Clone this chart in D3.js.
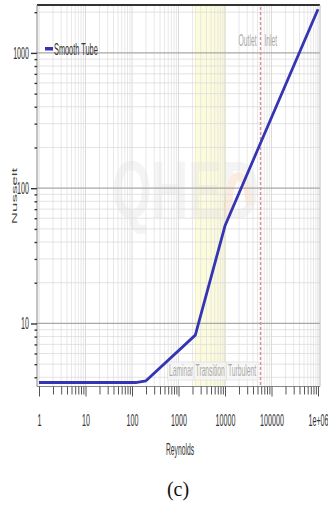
<!DOCTYPE html>
<html><head><meta charset="utf-8">
<script src="https://cdn.jsdelivr.net/npm/d3@7"></script>
<style>html,body{margin:0;padding:0;background:#fff;}svg{display:block;}</style>
</head><body>
<svg id="c" width="328" height="505"></svg>
<script>
// ---- data ----
const reynolds = [1, 120, 200, 2300, 10000, 100000, 1000000];
const nusselt  = [3.66, 3.66, 3.77, 8.2, 52.7, 333, 2100];
const xTickValues = [1, 10, 100, 1000, 10000, 100000, 1000000];
const xTickLabels = ["1", "10", "100", "1000", "10000", "100000", "1e+06"];
const yTickValues = [10, 100, 1000];
const yTickLabels = ["10", "100", "1000"];
const seriesName = ["Smooth Tube"];
const transitionBand = [2300, 10000];
const regimeLabels = ["Laminar", "Transition", "Turbulent"];
const portLine = [58000];
const portLabels = ["Outlet", "Inlet"];

const svg = d3.select("#c");
const L = 37, R = 320, T = 5, B = 386.5;
const x = d3.scaleLog().domain([1, 1e6]).range([39, 318]);
const y = d3.scaleLog().domain([3.42, 2260]).range([B, T]);
const SX = 0.42;
const font = "Liberation Sans, Arial, sans-serif";

// minor values
const xMinor = [], yMinor = [];
for (let e = 0; e < 6; e++) for (let k = 1; k < 10; k++) xMinor.push(k * Math.pow(10, e));
xMinor.push(1e6);
for (let e = 0; e < 4; e++) for (let k = 1; k < 10; k++) { const v = k * Math.pow(10, e); if (v >= 3.42 && v <= 2260) yMinor.push(v); }

// transition band
svg.append("rect").attr("x", x(transitionBand[0])).attr("y", T)
  .attr("width", x(transitionBand[1]) - x(transitionBand[0])).attr("height", B - T)
  .attr("fill", "#fcfcdc").attr("stroke", "#ecebc0").attr("stroke-width", 0.8);

// watermark
const wm = svg.append("g").attr("opacity", 0.35);
wm.append("text").attr("transform", "translate(112,218) scale(0.62,1)")
  .attr("font-family", font).attr("font-size", 82).attr("font-weight", "bold")
  .attr("fill", "#e2e2e2").text("QHED");
wm.append("path").attr("d", "M228,218 C226,170 246,160 250,205")
  .attr("fill", "none").attr("stroke", "#f4c9a4").attr("stroke-width", 8);

// grid
svg.append("g").selectAll("line").data(xMinor).join("line")
  .attr("x1", d => x(d)).attr("x2", d => x(d)).attr("y1", T).attr("y2", B)
  .attr("stroke", d => xTickValues.includes(d) ? "#d2d2d2" : "#e2e2e2").attr("stroke-width", 0.8);
svg.append("g").selectAll("line").data(yMinor).join("line")
  .attr("x1", L).attr("x2", R).attr("y1", d => y(d)).attr("y2", d => y(d))
  .attr("stroke", d => yTickValues.includes(d) ? "#a8a8a8" : "#dcdcdc")
  .attr("stroke-width", d => yTickValues.includes(d) ? 1.2 : 0.8);

// frame
svg.append("line").attr("x1", L).attr("x2", R).attr("y1", T).attr("y2", T).attr("stroke", "#333").attr("stroke-width", 2);
svg.append("line").attr("x1", R).attr("x2", R).attr("y1", T).attr("y2", B).attr("stroke", "#bbb").attr("stroke-width", 1);

// port line
svg.append("g").selectAll("line").data(portLine).join("line")
  .attr("x1", d => x(d)).attr("x2", d => x(d)).attr("y1", T + 2).attr("y2", B)
  .attr("stroke", "#e08a96").attr("stroke-width", 1.4).attr("stroke-dasharray", "3,2");
svg.append("text").attr("transform", `translate(${x(portLine[0]) - 4},${46}) scale(${SX},1)`)
  .attr("text-anchor", "end").attr("font-family", font).attr("font-size", 16).attr("fill", "#a8a8a8").text(portLabels[0]);
svg.append("text").attr("transform", `translate(${x(portLine[0]) + 4},${46}) scale(${SX},1)`)
  .attr("text-anchor", "start").attr("font-family", font).attr("font-size", 16).attr("fill", "#a8a8a8").text(portLabels[1]);

// regime labels
const regPos = [
  {x: x(transitionBand[0]) - 2, anchor: "end"},
  {x: (x(transitionBand[0]) + x(transitionBand[1])) / 2, anchor: "middle"},
  {x: x(transitionBand[1]) + 3, anchor: "start"}
];
regimeLabels.forEach((t, i) => {
  const g = svg.append("g");
  const tx = g.append("text").attr("transform", `translate(${regPos[i].x},${376}) scale(${SX},1)`)
    .attr("text-anchor", regPos[i].anchor).attr("font-family", font).attr("font-size", 16)
    .attr("fill", "#a9a9a9").text(t);
  const bb = tx.node().getBBox();
  const w = bb.width * SX;
  let x0 = regPos[i].anchor === "end" ? regPos[i].x - w : regPos[i].anchor === "middle" ? regPos[i].x - w / 2 : regPos[i].x;
  g.insert("rect", "text").attr("x", x0 - 1.5).attr("y", 362).attr("width", w + 3).attr("height", 18)
    .attr("fill", "#f7f7f7").attr("fill-opacity", 0.7).attr("stroke", "#e2e2e2").attr("stroke-width", 0.8);
});

// axes
const xAxis = d3.axisBottom(x).tickValues(xMinor).tickSize(8)
  .tickFormat(d => { const i = xTickValues.indexOf(d); return i >= 0 ? xTickLabels[i] : ""; });
const gx = svg.append("g").attr("transform", `translate(0,${B})`).call(xAxis);
gx.select(".domain").attr("d", `M${L},0H${R}`).attr("stroke", "#888");
gx.selectAll(".tick line").attr("stroke", "#555").attr("y2", d => xTickValues.includes(d) ? 10 : 8);
gx.selectAll(".tick text").attr("font-family", font).attr("font-size", 17).attr("fill", "#333")
  .attr("y", 27).attr("transform", `scale(${SX},1)`);

const yAxis = d3.axisLeft(y).tickValues(yMinor).tickSize(3)
  .tickFormat(d => { const i = yTickValues.indexOf(d); return i >= 0 ? yTickLabels[i] : ""; });
const gy = svg.append("g").attr("transform", `translate(${L},0)`).call(yAxis);
gy.select(".domain").attr("d", `M0,${T}V${B}`).attr("stroke", "#888");
gy.selectAll(".tick line").attr("stroke", "#333").attr("stroke-width", 1.4)
  .attr("x2", d => yTickValues.includes(d) ? -6 : -2.5);
gy.selectAll(".tick text").attr("font-family", font).attr("font-size", 17).attr("fill", "#333")
  .attr("x", -8 / SX).attr("transform", `scale(${SX},1)`);

// series
const pts = reynolds.map((r, i) => [r, nusselt[i]]);
svg.append("path").datum(pts)
  .attr("d", d3.line().x(d => x(d[0])).y(d => y(d[1])))
  .attr("fill", "none").attr("stroke", "#3434b4").attr("stroke-width", 2.8).attr("stroke-linejoin", "round");

// legend
svg.append("rect").attr("x", 45).attr("y", 47).attr("width", 8).attr("height", 3.5).attr("fill", "#3434b4");
svg.append("text").attr("transform", `translate(54,55) scale(0.46,1)`)
  .attr("font-family", font).attr("font-size", 16).attr("fill", "#333").text(seriesName[0]);

// axis titles
svg.append("text").attr("transform", `translate(17,196) rotate(-90) scale(1,0.42)`)
  .attr("text-anchor", "middle").attr("font-family", font).attr("font-size", 17).attr("fill", "#444").text("Nusselt");
svg.append("text").attr("transform", `translate(180,455) scale(0.42,1)`)
  .attr("text-anchor", "middle").attr("font-family", font).attr("font-size", 16).attr("fill", "#333").text("Reynolds");

// caption
svg.append("text").attr("x", 178).attr("y", 496).attr("text-anchor", "middle")
  .attr("font-family", "Liberation Serif, Times New Roman, serif").attr("font-size", 20).attr("fill", "#111").text("(c)");
</script>
</body></html>
